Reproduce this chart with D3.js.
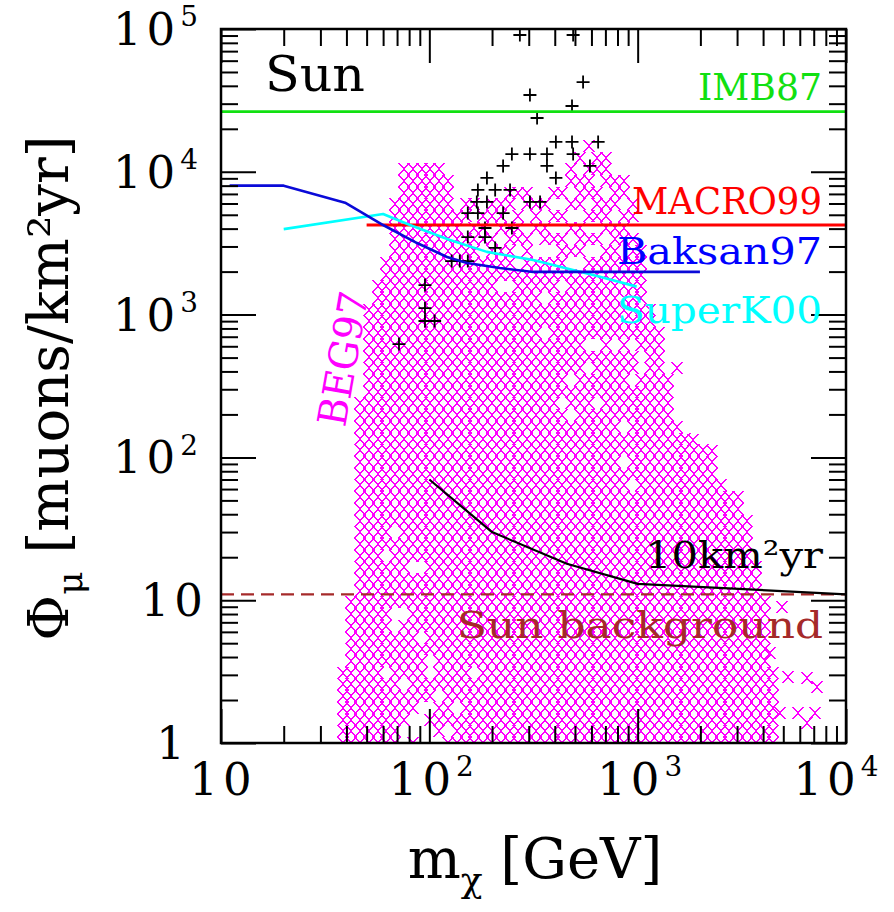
<!DOCTYPE html>
<html><head><meta charset="utf-8">
<script src="https://d3js.org/d3.v7.min.js"></script>
<style>body{margin:0;background:#fff} svg{display:block} text{font-family:"DejaVu Serif",serif}</style>
</head><body><svg id="c" width="894" height="912"></svg>
<script>
// ---------------- data ----------------
const xTickValues = [10, 100, 1000, 10000];
const xTickLabels = [["10",""],["10","2"],["10","3"],["10","4"]];
const yTickValues = [1, 10, 100, 1000, 10000, 100000];
const yTickLabels = [["1",""],["10",""],["10","2"],["10","3"],["10","4"],["10","5"]];

const imb87 = [[10,26400],[10000,26400]];
const macro99 = [[50,4240],[10000,4240]];
const baksan97 = [[11,8000],[20,8000],[39.4,6080],[60,4240],[87.3,3170],[121.6,2530],[151.7,2300],[218,2120],[315,1990],[1990,1990]];
const superK00 = [[20,3970],[60,5060],[80.7,4240],[125.6,3330],[189,2750],[315,2410],[659,1840],[989,1570]];
const exposure10 = [[100,70],[200,30],[457,18],[1000,13],[10000,11]];
const sunBackground = [[10,11],[10000,11]];

// BEG97 scan region: upper envelope (mass GeV, max flux); region extends down past 1
const beg97Mass = [38.1,41.6,45.5,48.1,51.9,58.0,64.7,72.3,121.6,128.6,156.8,218,304,359,424,500,590,736,822,939,1026,1146,1279,1510,1597,1992,2274,2485,3097,3459,3740,4085,4700];
const beg97Top  = [3.24,6.92,156,780,1264,1890,3070,12100,12100,5860,6350,7470,9500,6890,8090,13100,16200,14200,11700,7460,3910,1264,780,215,169,132,113,69.5,54.6,33.7,19.1,10,2.35];
// empty spots inside the scan region (mass, flux)
const beg97Holes = [[70.0,29.6],[62.7,20.1],[87.3,17.1],[72.3,8.13],[66.9,7.26],[90.2,5.26],[104,3.40],[64.7,2.90],[76.4,2.43],[112,2.10],[130,1.91],[166,2.90],
  [75.5,1],[92.3,1],[102,1],[111,1],[75.5,1.21],[83.6,1.21],[92.3,1.21],[102,1.21],[83.6,1.45],[92.3,1.45],[102,1.76],[92.3,1.76],[121,1.21],
  [231,1486],[359,1264],[438,1486],[371,697],[490,366],[424,233],[659,252],[796,632],[950,332],[611,632],[590,430],[889,91.4],[869,163],[490,205],[950,565],[1026,458],[950,62.1],
  [288,4980],[379,4240],[473,4980],[590,3910],[340,2830],[659,2830],[500,2410],[272,2410],[778,4980],[424,6350],
  [181.5,2780],[267.8,2780],[394.8,2780],[582.4,2780],[859.1,2780],
  [220.5,3357],[325.1,3357],[479.6,3357],[707.4,3357],
  [149.5,4055],[200.1,4055],[295.1,4055],[435.1,4055],[641.9,4055],[946.6,4055],
  [164.8,4898],[243,4898],[358.1,4898],[528.4,4898],[779.6,4898],
  [181.5,5916],[267.8,5916],[394.8,5916],[582.4,5916],[859.1,5916],
  [149.5,7145],[220.5,7145],[325.1,7145],[479.6,7145],[707.4,7145],[946.6,7145],
  [295.1,8630],[435.1,8630],[641.9,8630],[243,8630],
  [358.1,10420],[528.4,10420],[779.6,10420],[394.8,12590],[582.4,12590],[267.8,10420]];
// isolated scan points outside the envelope
const beg97Outliers = [[5272,2.90],[6502,2.85],[7262,2.47],[4822,1.62],[5888,1.62],[7096,1.62],[6502,1.38],[4912,8.96],[4313,4.27],[1538,421],[1393,348],[1845,132],[2265,110]];
// black "+" models
const plusPoints = [[272,90800],[490,90800],[547,42500],[304,34500],[484,28900],[329,23800],[405,16200],[484,16200],[646,16200],
  [249,13300],[304,13300],[367,13300],[490,13300],[226,11000],[367,11000],[590,11000],[189,9060],[405,9060],
  [171,7460],[207,7460],[244,7460],[169,6150],[189,6150],[304,6150],[340,6150],[153,5140],[171,5140],[226,5140],
  [185,4040],[249,4040],[153,3490],[185,3490],[207,2930],[128,2370],[140,2370],[153,2370],
  [95.3,1610],[95.3,1110],[95.3,902],[106,902],[71.5,622]];
// scan lattice steps (decades)
const gridRefLogM = 3.187, gridStepLogM = 0.0422, gridStepLogPhi = 0.082;

// ---------------- chart ----------------
const L=221, R=846, T=29, B=743;
const svg = d3.select("#c");
const x = d3.scaleLog().domain([10,1e4]).range([L,R]);
const y = d3.scaleLog().domain([1,1e5]).range([B,T]);

svg.append("defs").append("clipPath").attr("id","clip")
  .append("rect").attr("x",L).attr("y",T).attr("width",R-L).attr("height",B-T);
const plot = svg.append("g").attr("clip-path","url(#clip)");

const envLM = beg97Mass.map(Math.log10), envLF = beg97Top.map(Math.log10);
function topAt(lm){
  if(lm < envLM[0]-1e-6 || lm > envLM[envLM.length-1]+1e-6) return null;
  for(let i=0;i<envLM.length-1;i++){
    if(lm>=envLM[i]-1e-6 && lm<=envLM[i+1]+1e-6){
      const t=(lm-envLM[i])/(envLM[i+1]-envLM[i]);
      return envLF[i]+t*(envLF[i+1]-envLF[i]);
    }
  }
  return envLF[envLF.length-1];
}
let scan=[];
for(let k=-40;k<80;k++){
  const lm = gridRefLogM - k*gridStepLogM;
  const t = topAt(lm);
  if(t===null) continue;
  for(let j=0;j*gridStepLogPhi<=t-0.02;j++) scan.push([Math.pow(10,lm), Math.pow(10,j*gridStepLogPhi)]);
}
scan = scan.filter(p => !beg97Holes.some(h => Math.abs(x(p[0])-x(h[0]))<5 && Math.abs(y(p[1])-y(h[1]))<6.5));
scan = scan.concat(beg97Outliers);

plot.append("g").attr("shape-rendering","crispEdges").selectAll("path").data(scan).join("path")
  .attr("transform",d=>`translate(${Math.round(x(d[0]))},${Math.round(y(d[1]))})`)
  .attr("d","M-5,-6L5,6M-5,6L5,-6")
  .attr("stroke","#ff00ff").attr("stroke-width",1.5).attr("fill","none");

plot.append("g").selectAll("path").data(plusPoints).join("path")
  .attr("transform",d=>`translate(${x(d[0])},${y(d[1])})`)
  .attr("d","M-6.5,0H6.5M0,-6.5V6.5")
  .attr("stroke","#000").attr("stroke-width",1.8).attr("fill","none");

const line = d3.line().x(d=>x(d[0])).y(d=>y(d[1]));
function drawLine(data,color,w,dash){
  const p=plot.append("path").datum(data).attr("d",line).attr("fill","none")
    .attr("stroke",color).attr("stroke-width",w).attr("stroke-linejoin","round");
  if(dash) p.attr("stroke-dasharray",dash);
}
drawLine(sunBackground,"#a52a2a",2.2,"13,7");
drawLine(exposure10,"#000",2.2);
drawLine(imb87,"#11e011",2.6);
drawLine(macro99,"#ff0000",3);
drawLine(superK00,"#00ffff",2.6);
drawLine(baksan97,"#0a0ad8",2.6);

// axes ticks (inward, mirrored)
const minorX = x.ticks().filter(v=>!xTickValues.includes(v));
const minorY = y.ticks().filter(v=>!yTickValues.includes(v));
function ax(gen, tr, vals, len){
  const g=svg.append("g").attr("transform",tr).call(gen.tickValues(vals).tickSize(-len).tickFormat(""));
  g.select(".domain").remove();
  g.selectAll("line").attr("stroke","#000").attr("stroke-width",2);
}
ax(d3.axisBottom(x),`translate(0,${B})`,minorX,17);
ax(d3.axisBottom(x),`translate(0,${B})`,xTickValues,34);
ax(d3.axisTop(x),`translate(0,${T})`,minorX,17);
ax(d3.axisTop(x),`translate(0,${T})`,xTickValues,34);
ax(d3.axisLeft(y),`translate(${L},0)`,minorY,17);
ax(d3.axisLeft(y),`translate(${L},0)`,yTickValues,35);
ax(d3.axisRight(y),`translate(${R},0)`,minorY,17);
ax(d3.axisRight(y),`translate(${R},0)`,yTickValues,35);

svg.append("rect").attr("x",L).attr("y",T).attr("width",R-L).attr("height",B-T)
  .attr("fill","none").attr("stroke","#000").attr("stroke-width",2.5);

// tick labels
function supLabel(g, base, exp, fs){
  g.append("tspan").attr("letter-spacing",5).text(base);
  if(exp) g.append("tspan").attr("dy",-fs*0.42).attr("font-size",fs*0.62).text(exp);
}
xTickValues.forEach((v,i)=>{
  const xc = i===xTickValues.length-1 ? x(v)-10 : x(v)+2;
  const t=svg.append("text").attr("x",xc).attr("y",795).attr("text-anchor","middle").attr("font-size",45);
  supLabel(t,xTickLabels[i][0],xTickLabels[i][1],45);
});
yTickValues.forEach((v,i)=>{
  const lab=yTickLabels[i];
  const xe = lab[1] ? 198 : (lab[0]==="10" ? 208 : 190);
  const t=svg.append("text").attr("x",xe).attr("y",y(v)+16).attr("text-anchor","end").attr("font-size",45);
  supLabel(t,lab[0],lab[1],45);
});

// axis titles
const xt=svg.append("text").attr("x",535).attr("y",878).attr("text-anchor","middle").attr("font-size",56);
xt.append("tspan").text("m");
xt.append("tspan").attr("dy",14).attr("font-size",36).text("χ");
xt.append("tspan").attr("dy",-14).text(" [GeV]");
const yt=svg.append("text").attr("transform","translate(68,388) rotate(-90)").attr("text-anchor","middle").attr("font-size",56);
yt.append("tspan").text("Φ");
yt.append("tspan").attr("dy",14).attr("font-size",36).text("μ");
yt.append("tspan").attr("dy",-14).text("  [muons/km²yr]");

// annotations
function label(txt,xx,yy,color,fs,len,anchor){
  return svg.append("text").attr("x",xx).attr("y",yy).attr("fill",color).attr("font-size",fs)
    .attr("text-anchor",anchor||"end").attr("textLength",len).attr("lengthAdjust","spacingAndGlyphs").text(txt);
}
label("Sun",265,91,"#000",48,100,"start");
label("IMB87",822,100,"#11e011",37,124);
label("MACRO99",822,214,"#ff0000",37,190);
label("Baksan97",822,264,"#0000ff",37,205);
label("SuperK00",822,323,"#00ffff",37,205);
label("10km²yr",823,568,"#000",38,178);
label("Sun background",823,638,"#a52a2a",37,366);
svg.append("text").attr("transform","translate(345,428) rotate(-80)").attr("fill","#ff00ff")
  .attr("font-size",40).attr("textLength",136).attr("lengthAdjust","spacingAndGlyphs").text("BEG97");
</script></body></html>
